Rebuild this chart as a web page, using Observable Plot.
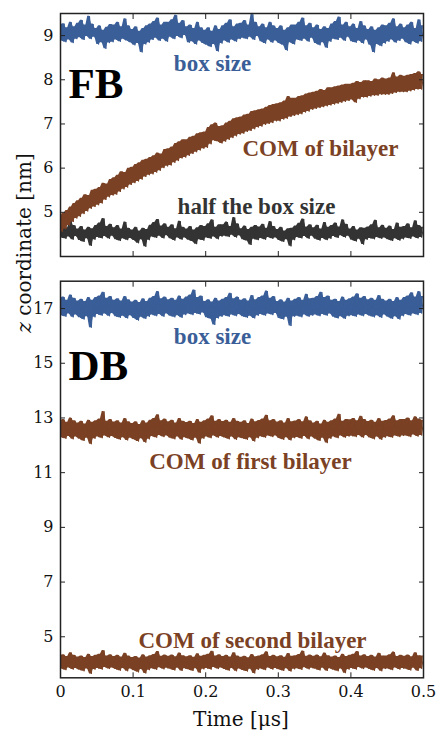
<!DOCTYPE html>
<html><head><meta charset="utf-8">
<script src="https://cdn.jsdelivr.net/npm/d3@7"></script>
<script src="https://cdn.jsdelivr.net/npm/@observablehq/plot@0.6"></script>
<style>
body{margin:0;background:#fff}
#c{position:relative;width:438px;height:733px;overflow:hidden;background:#fff}
#c svg{position:absolute;left:0;overflow:visible}
.lab{position:absolute;font-family:"DejaVu Serif",serif;font-size:20px;color:#111;white-space:nowrap}
</style></head><body><div id="c"></div>
<script>
// sampling step of the time series [µs]
const dt = 0.0025;
const xTicks = [0, 0.1, 0.2, 0.3, 0.4, 0.5];
const yTicksFB = [5, 6, 7, 8, 9];
const yTicksDB = [5, 7, 9, 11, 13, 15, 17];

// FB panel
const boxFB = [
9.22,8.88,9.27,8.85,9.18,8.90,9.30,8.83,9.20,8.92, 9.28,8.95,9.35,8.90,9.24,8.98,9.44,8.92,9.26,8.96,
9.16,8.80,9.22,8.84,9.12,8.70,9.19,8.83,9.25,8.85, 9.24,8.90,9.30,8.86,9.20,8.92,9.38,8.88,9.22,8.84,
9.14,8.78,9.20,8.82,9.10,8.62,9.16,8.80,9.22,8.84, 9.26,8.90,9.32,8.94,9.40,8.88,9.24,8.92,9.30,8.86,
9.30,8.96,9.36,8.92,9.46,8.98,9.28,8.94,9.34,9.00, 9.20,8.84,9.24,8.86,9.16,8.80,9.30,8.88,9.18,8.82,
9.12,8.78,9.18,8.74,9.10,8.80,9.22,8.64,9.14,8.82, 9.22,8.88,9.28,8.84,9.36,8.90,9.20,8.86,9.26,8.92,
9.28,8.94,9.34,8.92,9.24,8.96,9.48,8.90,9.30,8.98, 9.20,8.86,9.26,8.82,9.18,8.90,9.30,8.84,9.22,8.88,
9.16,8.82,9.22,8.78,9.12,8.66,9.18,8.84,9.24,8.80, 9.24,8.90,9.30,8.88,9.40,8.92,9.22,8.86,9.28,8.94,
9.18,8.82,9.24,8.78,9.14,8.84,9.20,8.72,9.16,8.86, 9.26,8.92,9.32,8.90,9.42,8.94,9.24,8.88,9.30,8.96,
9.20,8.86,9.26,8.84,9.16,8.88,9.32,8.82,9.22,8.90, 9.14,8.78,9.20,8.62,9.12,8.80,9.18,8.76,9.24,8.82,
9.22,8.86,9.28,8.90,9.38,8.84,9.20,8.88,9.26,8.92, 9.18,8.84,9.24,8.80,9.30,8.86,9.16,8.82,9.36,8.86,
9.22];
const halfFB = [
4.68,4.42,4.74,4.40,4.65,4.44,4.80,4.38,4.70,4.45, 4.62,4.36,4.68,4.33,4.60,4.40,4.66,4.24,4.63,4.38,
4.70,4.43,4.76,4.41,4.86,4.45,4.68,4.40,4.73,4.46, 4.65,4.38,4.70,4.35,4.62,4.40,4.78,4.37,4.64,4.41,
4.60,4.36,4.66,4.30,4.58,4.38,4.64,4.22,4.61,4.37, 4.71,4.44,4.77,4.42,4.84,4.46,4.69,4.41,4.74,4.47,
4.66,4.40,4.72,4.36,4.63,4.42,4.80,4.38,4.66,4.42, 4.62,4.37,4.68,4.34,4.60,4.28,4.65,4.38,4.70,4.36,
4.68,4.42,4.74,4.40,4.83,4.44,4.66,4.39,4.72,4.45, 4.72,4.46,4.78,4.44,4.68,4.48,4.88,4.43,4.74,4.47,
4.63,4.38,4.69,4.35,4.61,4.26,4.66,4.39,4.70,4.37, 4.67,4.41,4.73,4.38,4.64,4.43,4.79,4.40,4.68,4.42,
4.61,4.36,4.66,4.33,4.58,4.38,4.63,4.23,4.64,4.37, 4.69,4.43,4.75,4.41,4.85,4.45,4.67,4.40,4.72,4.46,
4.65,4.39,4.71,4.36,4.62,4.41,4.77,4.37,4.66,4.40, 4.70,4.45,4.76,4.42,4.67,4.47,4.83,4.43,4.73,4.46,
4.62,4.37,4.68,4.34,4.60,4.39,4.65,4.27,4.64,4.38, 4.67,4.41,4.72,4.39,4.82,4.43,4.65,4.40,4.71,4.42,
4.64,4.38,4.69,4.35,4.61,4.40,4.76,4.36,4.66,4.39, 4.68,4.42,4.74,4.40,4.65,4.44,4.81,4.41,4.70,4.43,
4.66];
const comFB = [
4.88,4.56,4.98,4.62,5.04,4.70,5.12,4.78,5.20,4.86, 5.26,4.90,5.32,4.96,5.40,5.02,5.38,5.08,5.50,5.12,
5.52,5.16,5.56,5.20,5.66,5.28,5.64,5.34,5.74,5.38, 5.78,5.40,5.84,5.46,5.92,5.52,5.90,5.56,6.00,5.62,
6.02,5.66,6.08,5.70,6.12,5.74,6.18,5.80,6.20,5.84, 6.24,5.86,6.28,5.90,6.34,5.94,6.32,6.00,6.42,6.04,
6.44,6.06,6.48,6.12,6.56,6.16,6.60,6.22,6.64,6.24, 6.64,6.28,6.70,6.32,6.72,6.36,6.78,6.40,6.80,6.44,
6.82,6.46,6.92,6.54,6.98,6.62,7.02,6.60,6.94,6.56, 6.96,6.60,7.02,6.64,7.06,6.68,7.12,6.72,7.14,6.76,
7.16,6.78,7.20,6.82,7.22,6.84,7.28,6.88,7.30,6.92, 7.32,6.94,7.34,6.98,7.38,7.00,7.42,7.02,7.44,7.06,
7.46,7.06,7.48,7.10,7.52,7.12,7.62,7.16,7.58,7.18, 7.58,7.20,7.62,7.22,7.64,7.26,7.68,7.28,7.70,7.32,
7.72,7.34,7.74,7.36,7.78,7.38,7.76,7.40,7.82,7.42, 7.82,7.44,7.84,7.46,7.86,7.48,7.88,7.50,7.90,7.52,
7.90,7.54,7.92,7.48,7.96,7.56,7.94,7.60,7.98,7.60, 7.98,7.62,7.96,7.64,8.02,7.64,8.00,7.66,8.04,7.66,
8.02,7.66,8.04,7.68,8.16,7.70,8.06,7.72,8.10,7.72, 8.08,7.72,8.10,7.74,8.12,7.76,8.14,7.78,8.18,7.78,
8.12];

// DB panel
const boxDB = [
17.36,16.74,17.42,16.70,17.30,16.80,17.50,16.68,17.38,16.76, 17.28,16.66,17.34,16.60,17.26,16.70,17.40,16.30,17.30,16.68,
17.40,16.78,17.46,16.74,17.60,16.80,17.38,16.72,17.44,16.82, 17.30,16.70,17.36,16.66,17.28,16.72,17.44,16.64,17.32,16.74,
17.24,16.64,17.30,16.56,17.22,16.68,17.36,16.62,17.26,16.70, 17.38,16.76,17.44,16.72,17.62,16.78,17.36,16.70,17.42,16.80,
17.32,16.72,17.38,16.68,17.30,16.74,17.46,16.66,17.34,16.76, 17.42,16.80,17.50,16.76,17.68,16.82,17.40,16.78,17.46,16.84,
17.26,16.66,17.32,16.62,17.24,16.40,17.38,16.64,17.28,16.70, 17.34,16.74,17.40,16.70,17.56,16.76,17.36,16.72,17.42,16.78,
17.30,16.70,17.36,16.66,17.28,16.72,17.48,16.64,17.32,16.74, 17.40,16.78,17.46,16.74,17.64,16.80,17.38,16.76,17.44,16.82,
17.26,16.64,17.32,16.60,17.24,16.68,17.38,16.36,17.28,16.70, 17.34,16.72,17.40,16.68,17.30,16.76,17.52,16.70,17.36,16.74,
17.38,16.76,17.44,16.72,17.60,16.78,17.40,16.74,17.46,16.80, 17.30,16.68,17.34,16.64,17.26,16.70,17.42,16.62,17.30,16.72,
17.36,16.74,17.42,16.70,17.54,16.76,17.38,16.72,17.44,16.78, 17.32,16.72,17.38,16.68,17.30,16.74,17.48,16.66,17.34,16.76,
17.28,16.68,17.34,16.62,17.26,16.70,17.40,16.60,17.30,16.72, 17.40,16.78,17.46,16.74,17.58,16.80,17.42,16.76,17.62,16.82,
17.44];
const com1DB = [
12.88,12.28,12.94,12.24,12.84,12.32,13.00,12.22,12.90,12.30, 12.82,12.22,12.88,12.16,12.78,12.26,12.92,12.04,12.84,12.24,
12.90,12.30,12.96,12.26,13.24,12.34,12.88,12.28,12.94,12.32, 12.85,12.25,12.90,12.20,12.82,12.28,12.98,12.18,12.86,12.26,
12.80,12.20,12.86,12.14,12.76,12.24,12.90,12.10,12.82,12.22, 12.92,12.32,12.98,12.28,13.12,12.36,12.90,12.30,12.96,12.34,
12.86,12.26,12.92,12.22,12.82,12.30,12.98,12.20,12.88,12.28, 12.83,12.23,12.88,12.18,12.80,12.26,12.94,12.06,12.84,12.24,
12.90,12.30,12.96,12.26,13.08,12.34,12.88,12.28,12.94,12.32, 12.87,12.27,12.92,12.22,12.84,12.30,12.98,12.20,12.88,12.28,
12.84,12.24,12.90,12.20,12.80,12.28,12.96,12.14,12.86,12.26, 12.91,12.31,12.96,12.28,13.10,12.34,12.90,12.30,12.94,12.34,
12.85,12.25,12.90,12.20,12.82,12.28,12.98,12.18,12.86,12.26, 12.89,12.29,12.94,12.24,12.86,12.32,13.04,12.22,12.90,12.30,
12.82,12.22,12.88,12.16,12.78,12.26,12.92,12.08,12.84,12.24, 12.90,12.30,12.96,12.26,13.14,12.34,12.88,12.28,12.94,12.32,
12.93,12.33,12.98,12.30,12.90,12.36,13.06,12.28,12.94,12.36, 12.87,12.27,12.92,12.22,12.84,12.30,12.98,12.20,12.88,12.28,
12.91,12.31,12.96,12.28,13.08,12.34,12.90,12.30,12.94,12.34, 12.94,12.34,13.00,12.30,12.90,12.38,13.04,12.32,12.96,12.36,
12.92];
const com2DB = [
4.30,3.82,4.34,3.78,4.28,3.86,4.42,3.80,4.32,3.84, 4.26,3.78,4.30,3.74,4.24,3.82,4.36,3.64,4.28,3.80,
4.32,3.84,4.36,3.80,4.50,3.88,4.30,3.82,4.34,3.86, 4.28,3.80,4.32,3.76,4.26,3.84,4.40,3.74,4.30,3.82,
4.24,3.76,4.28,3.70,4.22,3.80,4.34,3.66,4.26,3.78, 4.31,3.83,4.35,3.79,4.46,3.87,4.29,3.81,4.33,3.85,
4.29,3.81,4.33,3.77,4.27,3.85,4.41,3.75,4.31,3.83, 4.27,3.79,4.31,3.75,4.25,3.83,4.38,3.68,4.29,3.81,
4.32,3.84,4.36,3.80,4.47,3.88,4.30,3.82,4.34,3.86, 4.28,3.80,4.32,3.76,4.26,3.84,4.42,3.74,4.30,3.82,
4.25,3.77,4.29,3.73,4.23,3.81,4.35,3.66,4.27,3.79, 4.30,3.82,4.34,3.78,4.45,3.86,4.28,3.80,4.32,3.84,
4.27,3.79,4.31,3.75,4.25,3.83,4.39,3.73,4.29,3.81, 4.31,3.83,4.35,3.79,4.48,3.87,4.29,3.81,4.33,3.85,
4.29,3.81,4.33,3.77,4.27,3.85,4.41,3.75,4.31,3.83, 4.26,3.78,4.30,3.74,4.24,3.82,4.36,3.67,4.28,3.80,
4.32,3.84,4.36,3.80,4.46,3.88,4.30,3.82,4.34,3.86, 4.28,3.80,4.32,3.76,4.26,3.84,4.40,3.74,4.30,3.82,
4.30,3.82,4.34,3.78,4.44,3.86,4.28,3.80,4.32,3.84, 4.29,3.81,4.33,3.77,4.27,3.85,4.42,3.75,4.31,3.83,
4.30];

const BLUE = "#3a5e98", BROWN = "#7b4124", DARK = "#333333";

function series(vals, color) {
  const rows = vals.map((v, i) => {
    const n = i + 1 < vals.length ? vals[i + 1] : v;
    return {t: i * dt, v, lo: Math.min(v, n), hi: Math.max(v, n)};
  });
  return [
    Plot.areaY(rows, {x: "t", y1: "lo", y2: "hi", fill: color, clip: true}),
    Plot.lineY(rows, {x: "t", y: "v", stroke: color, strokeWidth: 1, clip: true})
  ];
}

function frameMarks(yTicks, showX) {
  const blank = () => "";
  const m = [
    Plot.axisY(yTicks, {anchor: "left", tickSize: 0, tickPadding: 7, label: null, fill: "#111"}),
    Plot.axisY(yTicks, {anchor: "left", tickSize: -5, tickFormat: blank, label: null, stroke: "#222"}),
    Plot.axisY(yTicks, {anchor: "right", tickSize: -5, tickFormat: blank, label: null, stroke: "#222"}),
    Plot.axisX(xTicks, {anchor: "top", tickSize: -5, tickFormat: blank, label: null, stroke: "#222"}),
    Plot.axisX(xTicks, {anchor: "bottom", tickSize: -5, tickFormat: blank, label: null, stroke: "#222"}),
    Plot.frame({stroke: "#222", strokeWidth: 1.5})
  ];
  if (showX) m.push(Plot.axisX(xTicks, {anchor: "bottom", tickSize: 0, tickPadding: 8, label: null, fill: "#111", tickFormat: d => String(d)}));
  return m;
}

const labFont = {fontFamily: "Liberation Serif", fontWeight: "bold", fontSize: 23, textAnchor: "middle", lineAnchor: "middle"};
const bigFont = {fontFamily: "Liberation Serif", fontWeight: "bold", fontSize: 43, textAnchor: "start", lineAnchor: "middle", fill: "#000"};

const common = {
  width: 438,
  marginLeft: 60,
  marginRight: 15,
  x: {domain: [0, 0.5]},
  style: {fontFamily: "DejaVu Serif", fontSize: "16px", background: "transparent", overflow: "visible"}
};

const plotFB = Plot.plot({
  ...common,
  height: 262,
  marginTop: 13,
  marginBottom: 6,
  y: {domain: [4, 9.5]},
  marks: [
    ...series(boxFB, BLUE),
    ...series(halfFB, DARK),
    ...series(comFB, BROWN),
    Plot.text(["FB"], {x: 0.011, y: 7.91, ...bigFont}),
    Plot.text(["box size"], {x: 0.2094, y: 8.357, fill: BLUE, ...labFont}),
    Plot.text(["COM of bilayer"], {x: 0.358, y: 6.448, fill: BROWN, ...labFont}),
    Plot.text(["half the box size"], {x: 0.270, y: 5.13, fill: DARK, ...labFont}),
    ...frameMarks(yTicksFB, false)
  ]
});
plotFB.style.top = "0px";

const plotDB = Plot.plot({
  ...common,
  height: 471,
  marginTop: 18.7,
  marginBottom: 55.7,
  y: {domain: [3.5, 18]},
  marks: [
    ...series(boxDB, BLUE),
    ...series(com1DB, BROWN),
    ...series(com2DB, BROWN),
    Plot.text(["DB"], {x: 0.011, y: 14.88, ...bigFont}),
    Plot.text(["box size"], {x: 0.2094, y: 15.97, fill: BLUE, ...labFont}),
    Plot.text(["COM of first bilayer"], {x: 0.2617, y: 11.41, fill: BROWN, ...labFont}),
    Plot.text(["COM of second bilayer"], {x: 0.2645, y: 4.868, fill: BROWN, ...labFont}),
    ...frameMarks(yTicksDB, true)
  ]
});
plotDB.style.top = "262px";

const host = document.getElementById("c");
host.appendChild(plotFB);
host.appendChild(plotDB);

const ylab = document.createElement("div");
ylab.className = "lab";
ylab.style.left = "24px";
ylab.style.top = "243px";
ylab.innerHTML = '<span style="position:absolute;transform:translate(-50%,-50%) rotate(-90deg)"><i>z</i> coordinate [nm]</span>';
host.appendChild(ylab);

const xlab = document.createElement("div");
xlab.className = "lab";
xlab.style.left = "241px";
xlab.style.top = "719px";
xlab.innerHTML = '<span style="position:absolute;transform:translate(-50%,-50%)">Time [μs]</span>';
host.appendChild(xlab);
</script></body></html>
